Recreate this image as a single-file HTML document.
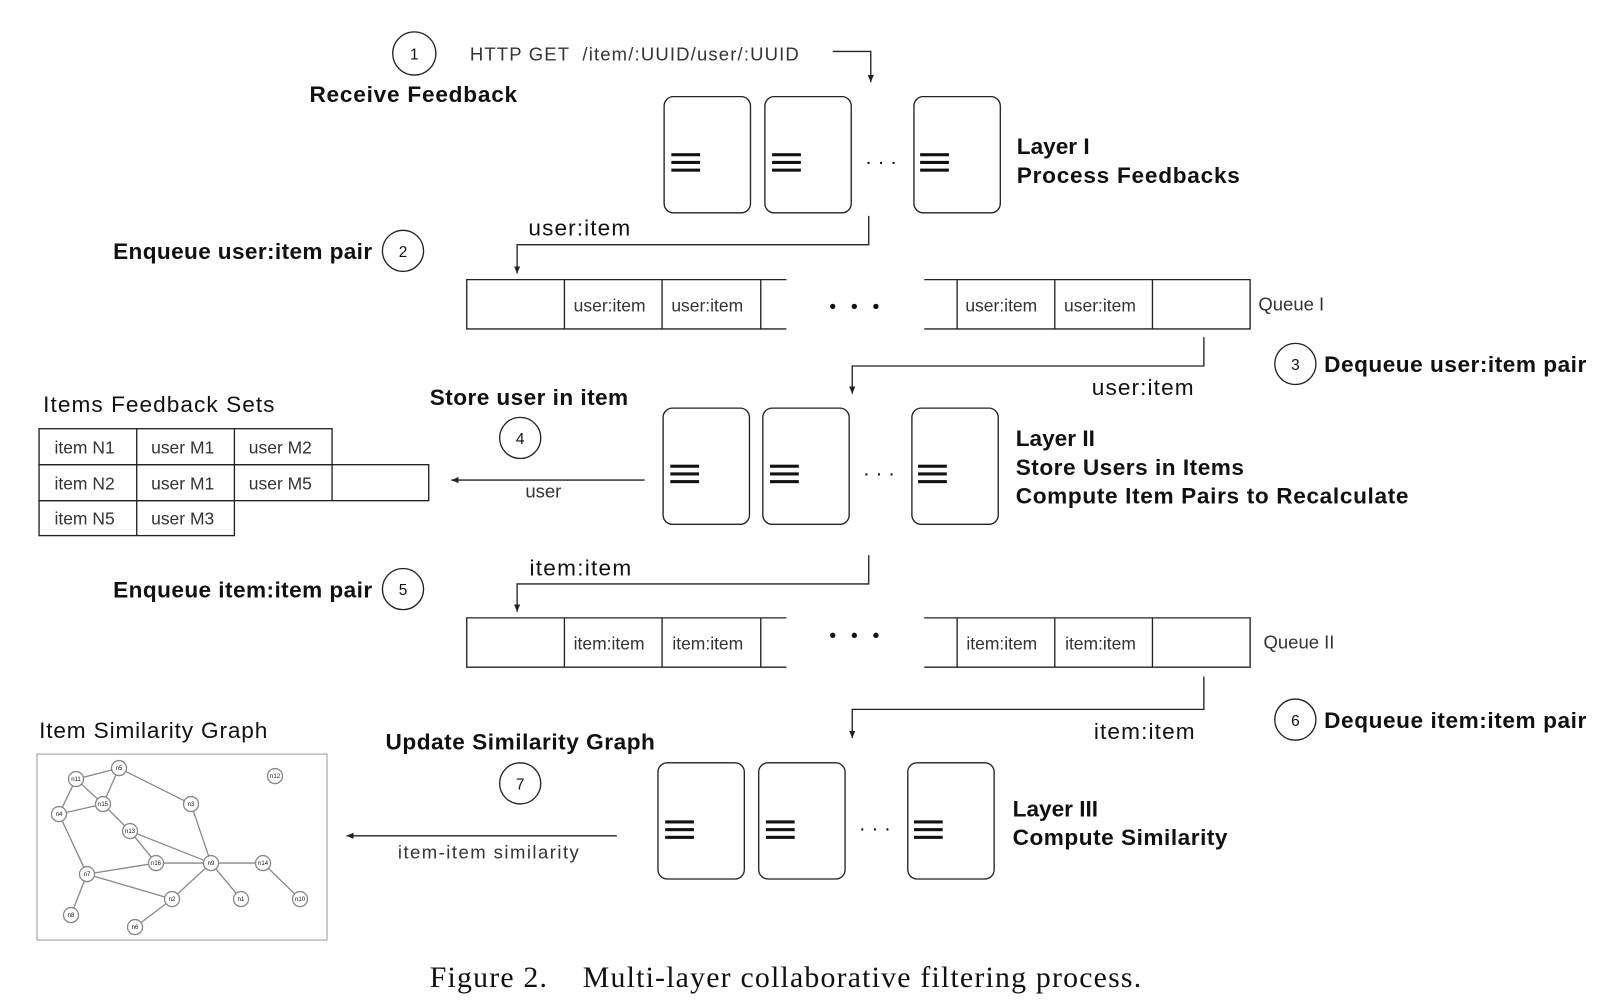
<!DOCTYPE html>
<html><head><meta charset="utf-8"><style>
html,body{margin:0;padding:0;background:#fff;}
svg{display:block;}
text{font-family:"Liberation Sans",sans-serif;fill:#111;}
.b{font-weight:bold;font-size:22px;}
.n{font-size:22px;}
.s{font-size:18px;fill:#333;}
.q{font-size:17px;fill:#333;}
</style></head><body>
<svg width="1612" height="1004" viewBox="0 0 1568 976.6" preserveAspectRatio="none" xmlns="http://www.w3.org/2000/svg">
<defs>
<marker id="a" markerWidth="8" markerHeight="8" refX="7" refY="4" orient="auto" markerUnits="userSpaceOnUse"><path d="M0,1 L7,4 L0,7 z" fill="#222"/></marker>
<g id="ham"><rect x="0" y="-9" width="28" height="3" fill="#111"/><rect x="0" y="-1.5" width="28" height="3" fill="#111"/><rect x="0" y="6" width="28" height="3" fill="#111"/></g>
</defs>
<g fill="none" stroke="#222" stroke-width="1.3">
<circle cx="403" cy="52" r="21"/>
<polyline points="810,50 847,50 847,80" marker-end="url(#a)"/>
<rect x="646" y="94" width="84" height="113" rx="9"/>
<rect x="744" y="94" width="84" height="113" rx="9"/>
<rect x="889" y="94" width="84" height="113" rx="9"/>
<polyline points="845,210 845,238 503,238 503,266" marker-end="url(#a)"/>
<circle cx="392" cy="244" r="20"/>
<polyline points="765,272 454,272 454,320 765,320"/>
<line x1="549" y1="272" x2="549" y2="320"/><line x1="644" y1="272" x2="644" y2="320"/><line x1="740" y1="272" x2="740" y2="320"/>
<polyline points="899,272 1216,272 1216,320 899,320"/>
<line x1="931" y1="272" x2="931" y2="320"/><line x1="1026" y1="272" x2="1026" y2="320"/><line x1="1121" y1="272" x2="1121" y2="320"/>
<polyline points="1171,328 1171,356 829,356 829,383" marker-end="url(#a)"/>
<circle cx="1260" cy="354" r="20"/>
<rect x="645" y="397" width="84" height="113" rx="9"/>
<rect x="742" y="397" width="84" height="113" rx="9"/>
<rect x="887" y="397" width="84" height="113" rx="9"/>
<circle cx="506" cy="426" r="20"/>
<line x1="627" y1="467" x2="439" y2="467" marker-end="url(#a)"/>
<rect x="38" y="417" width="285" height="35"/>
<rect x="38" y="452" width="379" height="35"/>
<rect x="38" y="487" width="190" height="34"/>
<line x1="133" y1="417" x2="133" y2="521"/><line x1="228" y1="417" x2="228" y2="487"/><line x1="323" y1="452" x2="323" y2="487"/>
<polyline points="845,540 845,568 503,568 503,595" marker-end="url(#a)"/>
<circle cx="392" cy="573" r="20"/>
<polyline points="765,601 454,601 454,649 765,649"/>
<line x1="549" y1="601" x2="549" y2="649"/><line x1="644" y1="601" x2="644" y2="649"/><line x1="740" y1="601" x2="740" y2="649"/>
<polyline points="899,601 1216,601 1216,649 899,649"/>
<line x1="931" y1="601" x2="931" y2="649"/><line x1="1026" y1="601" x2="1026" y2="649"/><line x1="1121" y1="601" x2="1121" y2="649"/>
<polyline points="1171,658 1171,690 829,690 829,718" marker-end="url(#a)"/>
<circle cx="1260" cy="700" r="20"/>
<rect x="640" y="742" width="84" height="113" rx="9"/>
<rect x="738" y="742" width="84" height="113" rx="9"/>
<rect x="883" y="742" width="84" height="113" rx="9"/>
<circle cx="506" cy="762" r="20"/>
<line x1="600" y1="813" x2="337" y2="813" marker-end="url(#a)"/>
</g>
<use href="#ham" x="653" y="158"/><use href="#ham" x="751" y="158"/><use href="#ham" x="895" y="158"/>
<use href="#ham" x="652" y="461"/><use href="#ham" x="749" y="461"/><use href="#ham" x="893" y="461"/>
<use href="#ham" x="647" y="807"/><use href="#ham" x="745" y="807"/><use href="#ham" x="889" y="807"/>
<g font-size="20" text-anchor="middle"><text x="857" y="164">· · ·</text><text x="855" y="467">· · ·</text><text x="851" y="812">· · ·</text></g>
<g fill="#111"><circle cx="810" cy="298" r="2.6"/><circle cx="831" cy="298" r="2.6"/><circle cx="852" cy="298" r="2.6"/>
<circle cx="810" cy="618" r="2.6"/><circle cx="831" cy="618" r="2.6"/><circle cx="852" cy="618" r="2.6"/></g>
<g font-size="15" text-anchor="middle"><text x="403" y="58">1</text><text x="392" y="250">2</text><text x="1260" y="360">3</text><text x="506" y="432">4</text><text x="392" y="579">5</text><text x="1260" y="706">6</text><text x="506" y="768">7</text></g>
<text class="s" x="457" y="59" textLength="320" xml:space="preserve">HTTP GET  /item/:UUID/user/:UUID</text>
<text class="b" x="301" y="99" textLength="202">Receive Feedback</text>
<text class="b" x="989" y="150">Layer I</text>
<text class="b" x="989" y="178" textLength="217">Process Feedbacks</text>
<text class="n" x="514" y="229" textLength="99">user:item</text>
<text class="b" x="110" y="252" textLength="252">Enqueue user:item pair</text>
<g class="q"><text class="q" x="558" y="303">user:item</text><text class="q" x="653" y="303">user:item</text><text class="q" x="939" y="303">user:item</text><text class="q" x="1035" y="303">user:item</text>
<text class="q" x="558" y="632">item:item</text><text class="q" x="654" y="632">item:item</text><text class="q" x="940" y="632">item:item</text><text class="q" x="1036" y="632">item:item</text></g>
<text class="s" x="1224" y="302">Queue I</text>
<text class="b" x="1288" y="362" textLength="255">Dequeue user:item pair</text>
<text class="n" x="1062" y="384" textLength="99">user:item</text>
<text class="n" x="42" y="401" textLength="225">Items Feedback Sets</text>
<text class="b" x="418" y="394" textLength="193">Store user in item</text>
<g class="q"><text class="q" x="53" y="441">item N1</text><text class="q" x="147" y="441">user M1</text><text class="q" x="242" y="441">user M2</text>
<text class="q" x="53" y="476">item N2</text><text class="q" x="147" y="476">user M1</text><text class="q" x="242" y="476">user M5</text>
<text class="q" x="53" y="510">item N5</text><text class="q" x="147" y="510">user M3</text></g>
<text class="s" x="511" y="484">user</text>
<text class="b" x="988" y="434">Layer II</text>
<text class="b" x="988" y="462" textLength="222">Store Users in Items</text>
<text class="b" x="988" y="490" textLength="382">Compute Item Pairs to Recalculate</text>
<text class="n" x="515" y="560" textLength="99">item:item</text>
<text class="b" x="110" y="581" textLength="252">Enqueue item:item pair</text>
<text class="s" x="1229" y="631">Queue II</text>
<text class="b" x="1288" y="708" textLength="255">Dequeue item:item pair</text>
<text class="n" x="1064" y="719" textLength="98">item:item</text>
<text class="n" x="38" y="718" textLength="222">Item Similarity Graph</text>
<text class="b" x="375" y="729" textLength="262">Update Similarity Graph</text>
<text class="b" x="985" y="794">Layer III</text>
<text class="b" x="985" y="822" textLength="209">Compute Similarity</text>
<text class="s" x="387" y="835" textLength="176">item-item similarity</text>
<text x="418" y="960" textLength="692" xml:space="preserve" style="font-family:'Liberation Serif',serif;font-size:29px">Figure 2.    Multi-layer collaborative filtering process.</text>
<g transform="scale(0.9728)">
<rect x="37" y="754" width="290" height="186" fill="none" stroke="#999" stroke-width="1"/>
<g stroke="#888" stroke-width="1.3" fill="none">
<path d="M76,779L119,768M76,779L103,804M119,768L103,804M76,779L59,814M59,814L103,804M119,768L191,804M103,804L130,831M130,831L156,863M130,831L211,863M191,804L211,863M156,863L211,863M211,863L263,863M263,863L300,899M211,863L241,899M211,863L172,899M59,814L87,874M87,874L156,863M87,874L172,899M87,874L71,915M172,899L135,927"/>
</g>
<g fill="#fff" stroke="#888" stroke-width="1.3">
<circle cx="119" cy="768" r="7.5"/><circle cx="76" cy="779" r="7.5"/><circle cx="103" cy="804" r="7.5"/><circle cx="59" cy="814" r="7.5"/><circle cx="191" cy="804" r="7.5"/><circle cx="275" cy="776" r="7.5"/><circle cx="130" cy="831" r="7.5"/><circle cx="156" cy="863" r="7.5"/><circle cx="211" cy="863" r="7.5"/><circle cx="263" cy="863" r="7.5"/><circle cx="87" cy="874" r="7.5"/><circle cx="172" cy="899" r="7.5"/><circle cx="241" cy="899" r="7.5"/><circle cx="300" cy="899" r="7.5"/><circle cx="71" cy="915" r="7.5"/><circle cx="135" cy="927" r="7.5"/>
</g>
<g font-size="6" text-anchor="middle" style="fill:#555">
<text x="119" y="770">n5</text><text x="76" y="781">n11</text><text x="103" y="806">n15</text><text x="59" y="816">n4</text><text x="191" y="806">n3</text><text x="275" y="778">n12</text><text x="130" y="833">n13</text><text x="156" y="865">n16</text><text x="211" y="865">n9</text><text x="263" y="865">n14</text><text x="87" y="876">n7</text><text x="172" y="901">n2</text><text x="241" y="901">n1</text><text x="300" y="901">n10</text><text x="71" y="917">n8</text><text x="135" y="929">n6</text>
</g>
</g>
</svg>
</body></html>
